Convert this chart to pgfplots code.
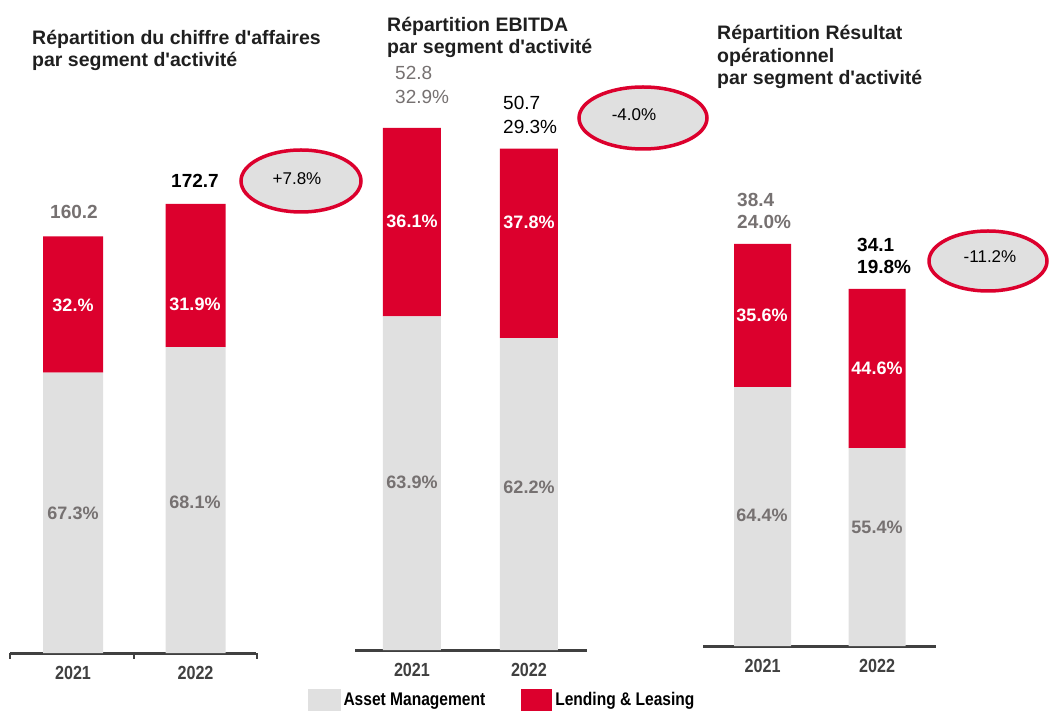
\documentclass[border=0pt]{standalone}
\usepackage{fontspec}
\setmainfont{Liberation Sans}
\newfontfamily\narrow[FakeStretch=0.85]{Liberation Sans}
\usepackage{pgfplots}
\pgfplotsset{compat=1.18}
\definecolor{llred}{HTML}{DC002D}
\definecolor{amgray}{HTML}{E0E0E0}
\definecolor{txtgray}{HTML}{767171}
\definecolor{axisgray}{HTML}{404040}
\definecolor{titleblack}{HTML}{1F1F1F}
\newcommand{\fs}[2]{\fontsize{#1}{#2}\selectfont}
\tikzset{seglab/.style={font=\bfseries\fs{18}{20}, inner sep=0pt}}
\pgfplotsset{
  panel/.style={
    ybar stacked, clip=false,
    axis x line*=bottom, axis y line=none,
    axis line style={draw=axisgray, line width=3pt},
    ymin=0, xtick={0,1}, xticklabels={2021,2022},
    major tick length=0pt, xtick style={draw=none},
    xticklabel style={font=\narrow\bfseries\fs{19}{22}, text=axisgray, anchor=center, yshift=-20pt},
    anchor=south west,
  },
  amleg/.style={legend image code/.code={\fill[amgray] (0pt,-11pt) rectangle (33pt,11pt);}},
  llleg/.style={legend image code/.code={\fill[llred] (0pt,-11pt) rectangle (31pt,11pt);}},
}
\begin{document}
\begin{tikzpicture}[x=1pt,y=1pt]
\path[use as bounding box] (0,0) rectangle (1050,710);

% ---------- Panel 1: chiffre d'affaires ----------
\begin{axis}[panel, at={(9.8pt,57pt)}, x=122.5pt, y=2.6pt,
  xmin=-0.516, xmax=1.494, ymax=200, bar width=60pt]
\addplot[fill=amgray, draw=none] coordinates {(0,107.8) (1,117.6)};
\addplot[fill=llred, draw=none] coordinates {(0,52.4) (1,55.1)};
\end{axis}

% ---------- Panel 2: EBITDA ----------
\begin{axis}[panel, at={(355pt,60pt)}, x=117pt, y=9.89pt,
  xmin=-0.487, xmax=1.496, ymax=60, bar width=58pt,
  legend columns=2, legend cell align=left,
  legend style={at={(axis description cs:-0.2047,-0.0843)}, anchor=west,
    draw=none, fill=none, inner sep=0pt, outer sep=0pt,
    font=\narrow\bfseries\fs{18.3}{20}, text=black,
    nodes={inner xsep=3pt, inner ysep=0pt},
    /tikz/every even column/.append style={column sep=33pt}}]
\addplot[fill=amgray, draw=none, amleg] coordinates {(0,33.74) (1,31.54)};
\addlegendentry{Asset Management}
\addplot[fill=llred, draw=none, llleg] coordinates {(0,19.06) (1,19.16)};
\addlegendentry{Lending \& Leasing}
\end{axis}

% ---------- Panel 3: Résultat opérationnel ----------
\begin{axis}[panel, at={(703pt,64pt)}, x=114.5pt, y=10.47pt,
  xmin=-0.52, xmax=1.515, ymax=45, bar width=57pt]
\addplot[fill=amgray, draw=none] coordinates {(0,24.73) (1,18.89)};
\addplot[fill=llred, draw=none] coordinates {(0,13.67) (1,15.21)};
\end{axis}

% ---------- ticks of panel 1 ----------
\foreach \tx in {10,134,257}{\draw[axisgray, line width=1.5pt] (\tx,57) -- (\tx,51);}

% ---------- segment labels ----------
\node[seglab, text=txtgray] at (73,197) {67.3\%};
\node[seglab, text=txtgray] at (195,208) {68.1\%};
\node[seglab, text=white] at (73,405) {32.\%};
\node[seglab, text=white] at (195,406) {31.9\%};
\node[seglab, text=txtgray] at (412,227.3) {63.9\%};
\node[seglab, text=txtgray] at (529,223) {62.2\%};
\node[seglab, text=white] at (412,488.3) {36.1\%};
\node[seglab, text=white] at (529,488) {37.8\%};
\node[seglab, text=txtgray] at (762,195) {64.4\%};
\node[seglab, text=txtgray] at (877,183) {55.4\%};
\node[seglab, text=white] at (762,395) {35.6\%};
\node[seglab, text=white] at (877,342) {44.6\%};

% ---------- Titles ----------
\begin{scope}[every node/.style={anchor=base west, inner sep=0pt, text=titleblack, font=\bfseries\fs{19.5}{23}}]
\node at (32,665) {Répartition du chiffre d\textquotesingle affaires};
\node at (32,643) {par segment d\textquotesingle activité};
\node at (387,678.3) {Répartition EBITDA};
\node at (387,656.7) {par segment d\textquotesingle activité};
\node at (717,670) {Répartition Résultat};
\node at (717,647.5) {opérationnel};
\node at (717,625) {par segment d\textquotesingle activité};
\end{scope}

% ---------- Totals above bars ----------
\begin{scope}[every node/.style={inner sep=0pt}]
\node[font=\bfseries\fs{19}{22}, text=txtgray] at (74,498) {160.2};
\node[font=\bfseries\fs{19}{22}, text=black] at (195,529) {172.7};
\node[anchor=west, font=\fs{19}{22}, text=txtgray] at (395,637) {52.8};
\node[anchor=west, font=\fs{19}{22}, text=txtgray] at (395,613.3) {32.9\%};
\node[anchor=west, font=\fs{19}{22}, text=black] at (503,607) {50.7};
\node[anchor=west, font=\fs{19}{22}, text=black] at (503,583) {29.3\%};
\node[anchor=west, font=\bfseries\fs{19}{22}, text=txtgray] at (737,510) {38.4};
\node[anchor=west, font=\bfseries\fs{19}{22}, text=txtgray] at (737,488) {24.0\%};
\node[anchor=west, font=\bfseries\fs{19}{22}, text=black] at (857,465) {34.1};
\node[anchor=west, font=\bfseries\fs{19}{22}, text=black] at (857,443) {19.8\%};
\end{scope}

% ---------- Growth ellipses ----------
\begin{scope}[every node/.style={inner sep=0pt, text=black, font=\fs{17}{19}}]
\draw[llred, line width=3.5pt, fill=amgray] (301,529) ellipse [x radius=60, y radius=31];
\node at (297,531) {+7.8\%};
\draw[llred, line width=3.5pt, fill=amgray] (643,592) ellipse [x radius=64, y radius=31];
\node at (634,595) {-4.0\%};
\draw[llred, line width=3.5pt, fill=amgray] (988,449) ellipse [x radius=59, y radius=30];
\node at (990,453) {-11.2\%};
\end{scope}
\end{tikzpicture}
\end{document}
